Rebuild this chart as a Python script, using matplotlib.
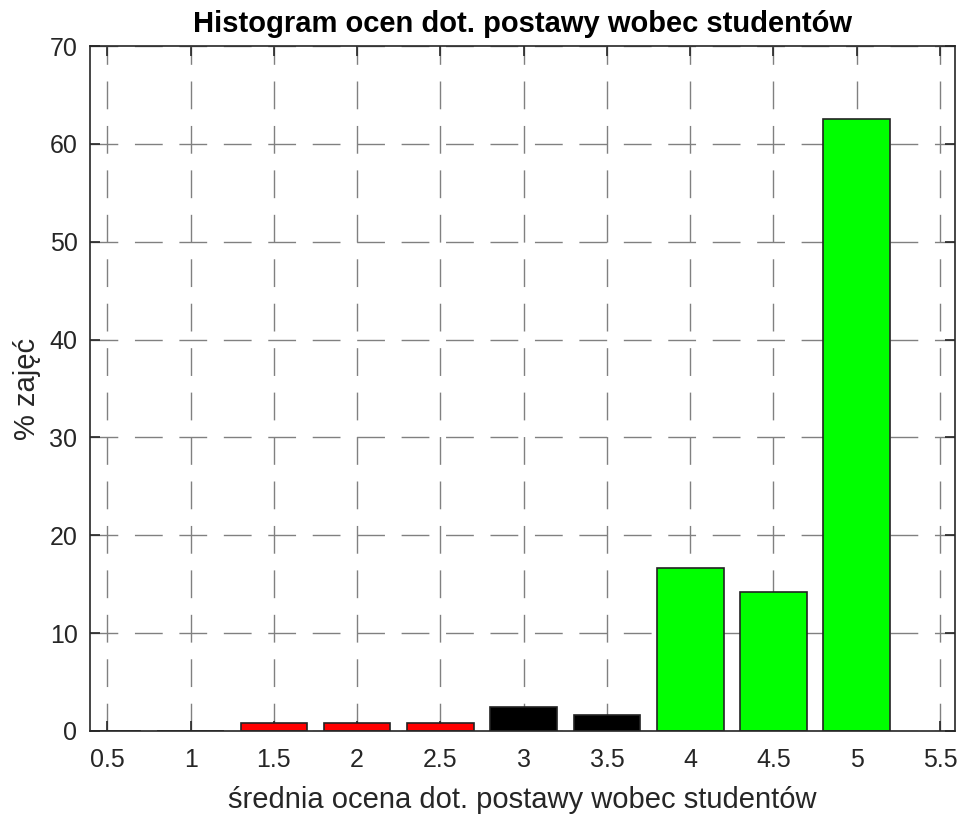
import numpy as np
import matplotlib.pyplot as plt

plt.rcParams['font.family'] = ['Liberation Sans', 'DejaVu Sans']

# srednia ocena (bin centres) and % of classes
oceny = [0.5, 1.0, 1.5, 2.0, 2.5, 3.0, 3.5, 4.0, 4.5, 5.0]
procent = [0.0, 0.0, 0.833, 0.833, 0.833, 2.5, 1.667, 16.667, 14.167, 62.5]
kolory = ['red', 'red', 'red', 'red', 'red', 'black', 'black', '#00ff00', '#00ff00', '#00ff00']

xticks = [0.5, 1, 1.5, 2, 2.5, 3, 3.5, 4, 4.5, 5, 5.5]
xtick_labels = ['0.5', '1', '1.5', '2', '2.5', '3', '3.5', '4', '4.5', '5', '5.5']
yticks = [0, 10, 20, 30, 40, 50, 60, 70]

fig = plt.figure(figsize=(9.61, 8.14), dpi=100)
ax = fig.add_axes([90 / 961, 1 - 731 / 814, 865 / 961, 685 / 814])

ax.set_axisbelow(True)
ax.grid(True, color='#808080', linestyle=(0, (20, 12)), linewidth=1.0)

ax.bar(oceny, procent, width=0.4, color=kolory, edgecolor='#222222', linewidth=1.2, zorder=2)

ax.set_xlim(0.396, 5.59)
ax.set_ylim(0, 70)
ax.set_xticks(xticks)
ax.set_xticklabels(xtick_labels)
ax.set_yticks(yticks)

ax.tick_params(direction='in', length=7, width=1.2, colors='#262626', labelsize=18,
               top=True, right=True, labeltop=False, labelright=False)
ax.tick_params(axis='x', pad=12)
ax.tick_params(axis='y', pad=9)
for s in ax.spines.values():
    s.set_color('#262626')
    s.set_linewidth(1.2)
    s.set_zorder(5)

ax.set_title('Histogram ocen dot. postawy wobec studentów', fontsize=21, fontweight='bold', pad=10)
ax.set_xlabel('średnia ocena dot. postawy wobec studentów', fontsize=21, color='#262626', labelpad=10)
ax.set_ylabel('% zajęć', fontsize=21, color='#262626', labelpad=6)

fig.savefig('out.png', dpi=100)
